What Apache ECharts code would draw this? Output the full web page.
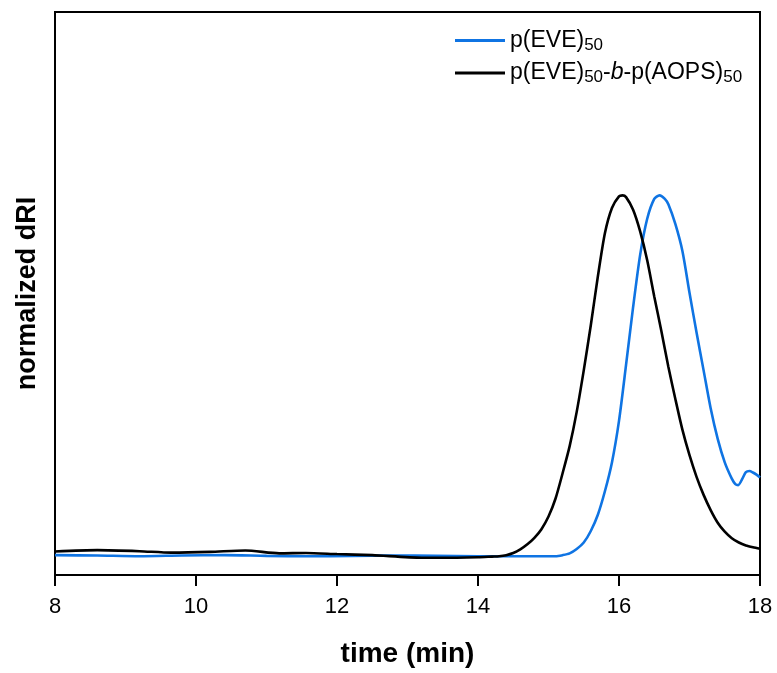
<!DOCTYPE html>
<html><head><meta charset="utf-8">
<script src="https://cdn.jsdelivr.net/npm/echarts@6/dist/echarts.min.js"></script>
<style>html,body{margin:0;padding:0;background:#fff}#c{width:777px;height:673px}</style>
</head><body><div id="c"></div>
<script>
// time (min) and normalized dRI
const eveTime = [8.0, 8.6, 9.2, 9.8, 10.4, 11.0, 11.6, 12.2, 12.8, 13.4, 14.0, 14.5, 14.9, 15.1, 15.2, 15.3, 15.4, 15.5, 15.6, 15.7, 15.8, 15.9, 16.0, 16.1, 16.2, 16.3, 16.4, 16.5, 16.575, 16.65, 16.7, 16.8, 16.9, 17.0, 17.1, 17.2, 17.3, 17.4, 17.5, 17.6, 17.65, 17.69, 17.75, 17.8, 17.85, 17.9, 17.95, 18.0];
const eveVal  = [0.003, 0.002, 0.0, 0.002, 0.003, 0.001, 0.0, 0.001, 0.002, 0.001, 0.0, 0.0, 0.0, 0.0, 0.003, 0.008, 0.02, 0.038, 0.07, 0.115, 0.18, 0.26, 0.375, 0.53, 0.69, 0.835, 0.935, 0.99, 1.0, 0.99, 0.975, 0.92, 0.845, 0.73, 0.62, 0.515, 0.41, 0.325, 0.26, 0.215, 0.2, 0.197, 0.215, 0.233, 0.236, 0.232, 0.226, 0.218];
const blockTime = [8.0, 8.6, 9.2, 9.65, 10.2, 10.7, 11.18, 11.56, 12.0, 12.5, 13.2, 13.7, 14.0, 14.2, 14.3, 14.4, 14.5, 14.6, 14.7, 14.8, 14.9, 15.0, 15.1, 15.2, 15.3, 15.4, 15.5, 15.6, 15.7, 15.8, 15.9, 16.0, 16.05, 16.1, 16.2, 16.3, 16.4, 16.5, 16.6, 16.7, 16.8, 16.9, 17.0, 17.1, 17.2, 17.3, 17.4, 17.5, 17.6, 17.7, 17.8, 17.9, 18.0];
const blockVal  = [0.013, 0.017, 0.014, 0.01, 0.012, 0.016, 0.008, 0.009, 0.006, 0.003, -0.004, -0.004, -0.003, -0.001, 0.0, 0.003, 0.009, 0.019, 0.033, 0.051, 0.075, 0.11, 0.16, 0.23, 0.305, 0.4, 0.515, 0.64, 0.775, 0.895, 0.965, 0.997, 1.0, 0.995, 0.96, 0.9, 0.82, 0.72, 0.625, 0.525, 0.435, 0.35, 0.28, 0.22, 0.17, 0.128, 0.093, 0.068, 0.05, 0.038, 0.03, 0.025, 0.021];
const xTicks = [8, 10, 12, 14, 16, 18];
const seriesNames = ['p(EVE)50', 'p(EVE)50-b-p(AOPS)50'];

const zip = (a, b) => a.map((v, i) => [v, b[i]]);
const chart = echarts.init(document.getElementById('c'));
const FF = 'Liberation Sans, Arial, sans-serif';
chart.setOption({
  animation: false,
  grid: { left: 55, right: 17, top: 12, bottom: 93, show: true, borderColor: '#000', borderWidth: 2 },
  legend: {
    orient: 'vertical', left: 450, top: 24, itemGap: 8,
    itemWidth: 50, itemHeight: 3, icon: 'rect',
    data: seriesNames,
    textStyle: {
      fontFamily: FF, fontSize: 23, color: '#000',
      rich: {
        n: { fontFamily: FF, fontSize: 23, color: '#000' },
        i: { fontFamily: FF, fontSize: 23, color: '#000', fontStyle: 'italic' },
        s: { fontFamily: FF, fontSize: 17, color: '#000', verticalAlign: 'bottom', padding: [9, 0, 0, 0] }
      }
    },
    formatter: name => name === seriesNames[0]
      ? '{n|p(EVE)}{s|50}'
      : '{n|p(EVE)}{s|50}{n|-}{i|b}{n|-p(AOPS)}{s|50}'
  },
  xAxis: {
    type: 'value', min: 8, max: 18, interval: 2,
    name: 'time (min)', nameLocation: 'middle', nameGap: 65,
    nameTextStyle: { fontFamily: FF, fontSize: 28, fontWeight: 'bold', color: '#000' },
    axisLine: { onZero: false, lineStyle: { color: '#000', width: 2 } },
    axisTick: { inside: false, length: 11, lineStyle: { color: '#000', width: 2 } },
    axisLabel: { fontFamily: FF, fontSize: 22, color: '#000', margin: 21,
      formatter: v => xTicks.includes(v) ? String(v) : '' },
    splitLine: { show: false }
  },
  yAxis: {
    type: 'value', min: -0.052, max: 1.508,
    name: 'normalized dRI', nameLocation: 'middle', nameGap: 14,
    nameTextStyle: { fontFamily: FF, fontSize: 27, fontWeight: 'bold', color: '#000' },
    axisLine: { show: true, onZero: false, lineStyle: { color: '#000', width: 2 } },
    axisTick: { show: false }, axisLabel: { show: false }, splitLine: { show: false }
  },
  series: [
    { name: seriesNames[0], type: 'line', data: zip(eveTime, eveVal), smooth: 0.25, symbol: 'none',
      lineStyle: { color: '#0f74e3', width: 2.6 }, itemStyle: { color: '#0f74e3' } },
    { name: seriesNames[1], type: 'line', data: zip(blockTime, blockVal), smooth: 0.25, symbol: 'none',
      lineStyle: { color: '#000', width: 2.6 }, itemStyle: { color: '#000' } }
  ]
});
</script></body></html>
